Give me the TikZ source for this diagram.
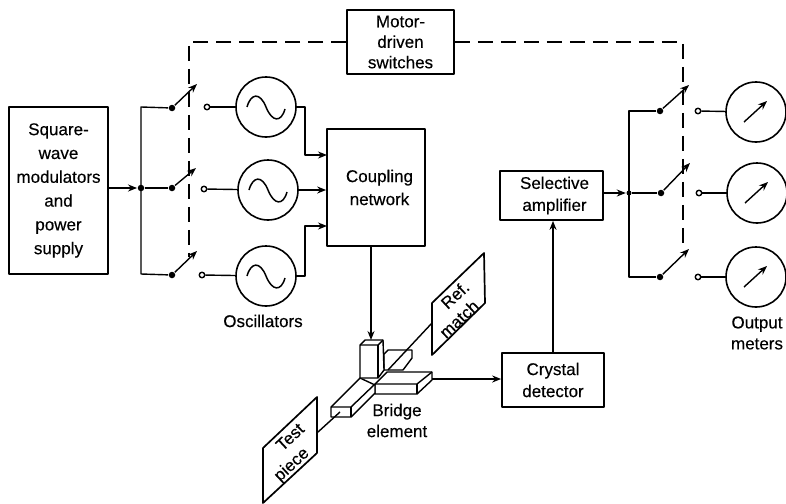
\documentclass[tikz,border=0pt]{standalone}
\usepackage{fontspec}
\setmainfont{Liberation Sans}[FakeBold=0.3]
\usetikzlibrary{arrows.meta}
\begin{document}
\begin{tikzpicture}[x=1pt, y=-1pt, line width=1.4pt, line join=round,
	>={Stealth[length=9pt,width=7pt]},
	blockbox/.style={draw, line width=1.7pt, inner sep=0pt, align=center, fill=white},
	label/.style={inner sep=0pt, align=center, font=\fontsize{17}{21}\selectfont},
	dial/.style={draw, circle, minimum size=60pt, inner sep=0pt, line width=1.6pt},
	pivot/.style={fill, circle, minimum size=6.5pt, inner sep=0pt},
	contact/.style={draw, circle, fill=white, minimum size=5.5pt, inner sep=0pt},
	ctrl/.style={line width=1.4pt, dash pattern=on 15pt off 8pt},
	wave/.style={line width=1.5pt}]
	
	\useasboundingbox (0,0) rectangle (786,503);
	
	% --- KHOI CHINH ---
	\node[blockbox, minimum width=99pt, minimum height=167pt, font=\fontsize{17}{23.8}\selectfont] (modulator) at (58.5,190.5) {Square-\\wave\\modulators\\and\\power\\supply};
	\node[blockbox, minimum width=107pt, minimum height=64pt, font=\fontsize{17}{20.5}\selectfont] (motor) at (400.5,42) {Motor-\\driven\\switches};
	\node[blockbox, minimum width=98pt, minimum height=117pt, font=\fontsize{17}{23}\selectfont] (coupling) at (376,187.5) {\hspace*{7pt}Coupling\\\hspace*{7pt}network};
	\node[blockbox, minimum width=103pt, minimum height=49pt, font=\fontsize{17}{22}\selectfont] (selective) at (551.5,195.5) {\hspace*{6pt}Selective\\\hspace*{6pt}amplifier};
	\node[blockbox, minimum width=102pt, minimum height=54pt, font=\fontsize{17}{22}\selectfont] (crystal) at (553,380) {Crystal\\detector};
	
	% --- MAY DAO DONG ---
	\node[dial] (oscA) at (266,107) {};
	\node[dial] (oscB) at (268,190) {};
	\node[dial] (oscC) at (266,276) {};
	\draw[wave] (oscA.center) ++(-19,0) .. controls +(4,-14) and +(-6,-15) .. ++(19,0) .. controls +(6,15) and +(-4,14) .. ++(19,2);
	\draw[wave] (oscB.center) ++(-19,0) .. controls +(4,-14) and +(-6,-15) .. ++(19,0) .. controls +(6,15) and +(-4,14) .. ++(19,2);
	\draw[wave] (oscC.center) ++(-19,0) .. controls +(4,-14) and +(-6,-15) .. ++(19,0) .. controls +(6,15) and +(-4,14) .. ++(19,2);
	\node[label] (osclabel) at (263,321) {Oscillators};
	
	% --- CONG TAC BEN TRAI ---
	\coordinate (busLA) at (141,107);
	\coordinate (busLC) at (141,274);
	\node[pivot] (busLB) at (141,188) {};
	\node[pivot] (pivLA) at (172,108) {};
	\node[pivot] (pivLB) at (172,188) {};
	\node[pivot] (pivLC) at (172,275) {};
	\node[contact] (conLA) at (207,107) {};
	\node[contact] (conLB) at (204,189) {};
	\node[contact] (conLC) at (202,275) {};
	\coordinate (tipLA) at (197,84);
	\coordinate (tipLB) at (196,168);
	\coordinate (tipLC) at (197,251);
	\draw (pivLA) -- (busLA) -- (busLC) -- (pivLC);
	\draw (busLB) -- (pivLB);
	\draw[->] (modulator.east |- busLB) -- (busLB);
	\draw[->] (pivLA) -- (tipLA);
	\draw[->] (pivLB) -- (tipLB);
	\draw[->] (pivLC) -- (tipLC);
	\draw (conLA) -- (oscA);
	\draw (conLB) -- (oscB);
	\draw (conLC) -- (oscC);
	
	% --- NOI VAO MANG GHEP ---
	\coordinate (inA) at (327,155);
	\coordinate (inC) at (327,226);
	\draw[->] (oscA.east) -- ++(8,0) |- (inA);
	\draw[->] (oscB.east) -- (coupling.west |- oscB.east);
	\draw[->] (oscC.east) -- ++(8,0) |- (inC);
	
	% --- DUONG DIEU KHIEN NET DUT ---
	\coordinate (ctrlL) at (189,257);
	\coordinate (ctrlR) at (683,248);
	\draw[ctrl] (motor.west) -| (ctrlL);
	\draw[ctrl] (motor.east) -| (ctrlR);
	
	% --- CONG TAC BEN PHAI ---
	\coordinate (busRA) at (629,111);
	\coordinate (busRC) at (629,277);
	\node[pivot, minimum size=5pt] (busRB) at (629,193) {};
	\node[pivot] (pivRA) at (660,111) {};
	\node[pivot] (pivRB) at (661,193) {};
	\node[pivot] (pivRC) at (660,277) {};
	\node[contact] (conRA) at (698,111) {};
	\node[contact] (conRB) at (699,193) {};
	\node[contact] (conRC) at (698,277) {};
	\coordinate (tipRA) at (689,85);
	\coordinate (tipRB) at (690,163);
	\coordinate (tipRC) at (689,249);
	\draw (pivRA) -- (busRA) -- (busRC) -- (pivRC);
	\draw (busRB) -- (pivRB);
	\draw[->] (selective.east |- busRB) -- (busRB);
	\draw[->] (pivRA) -- (tipRA);
	\draw[->] (pivRB) -- (tipRB);
	\draw[->] (pivRC) -- (tipRC);
	
	% --- DONG HO ---
	\node[dial] (meterA) at (756,112) {};
	\node[dial] (meterB) at (757,193) {};
	\node[dial] (meterC) at (756,277) {};
	\draw (conRA) -- (meterA);
	\draw (conRB) -- (meterB);
	\draw (conRC) -- (meterC);
	\draw[->] (meterA.center) ++(-12,10) -- ++(23,-21);
	\draw[->] (meterB.center) ++(-12,10) -- ++(23,-21);
	\draw[->] (meterC.center) ++(-12,10) -- ++(23,-21);
	\node[label] (meterlabel) at (757,333) {Output\\meters};
	
	% --- PHAN TU CAU ---
	\coordinate (refend) at (432,323);
	\coordinate (testend) at (318,432);
	\coordinate (couplingout) at (371,246);
	\coordinate (blocktop) at (371,340);
	\coordinate (bridgeout) at (432,379);
	
	% nhanh phia sau
	\draw[fill=white] (384,354) -- (388,350) -- (412,350) -- (412,358) -- (403,370) -- (384,370) -- cycle;
	\draw (refend) -- (388,370);
	% nhanh ngang
	\draw[fill=white] (375,384) -- (387,372) -- (432,372) -- (432,380) -- (417,394) -- (375,394) -- cycle;
	\draw (375,384) -- (417,384) -- (432,372);
	\draw (417,384) -- (417,394);
	% nhanh xuong test piece
	\draw[fill=white] (331,407) -- (360,378) -- (375,385) -- (375,393) -- (351,417) -- (331,417) -- cycle;
	\draw (331,407) -- (351,407) -- (375,384);
	\draw (351,407) -- (351,417);
	% khoi dung
	\draw[fill=white] (360,345) -- (365,340) -- (383,340) -- (384,370) -- (378,378) -- (360,378) -- cycle;
	\draw (360,345) -- (378,345) -- (383,340);
	\draw (378,345) -- (378,378);
	\draw (testend) -- (340,412);
	\node[label] (bridgelabel) at (397,420.5) {Bridge\\element};
	
	% --- TAI ---
	\draw[blockbox] (432,303) -- (484,253) -- (485,303) -- (432,355) -- cycle;
	\node[label, rotate=43] (reftext) at (455,295) {Ref.};
	\node[label, rotate=43] (matchtext) at (459,319) {match};
	\draw[blockbox] (263,448) -- (317,397) -- (317,453) -- (263,503) -- cycle;
	\node[label, rotate=43] (testtext) at (290,437) {Test};
	\node[label, rotate=43] (piecetext) at (292,465) {piece};
	
	% --- NOI KHOI ---
	\draw[->] (couplingout) -- (blocktop);
	\draw[->] (bridgeout) -- (crystal.west |- bridgeout);
	\draw[->] (crystal.north) -- (crystal.north |- selective.south);
\end{tikzpicture}
\end{document}
